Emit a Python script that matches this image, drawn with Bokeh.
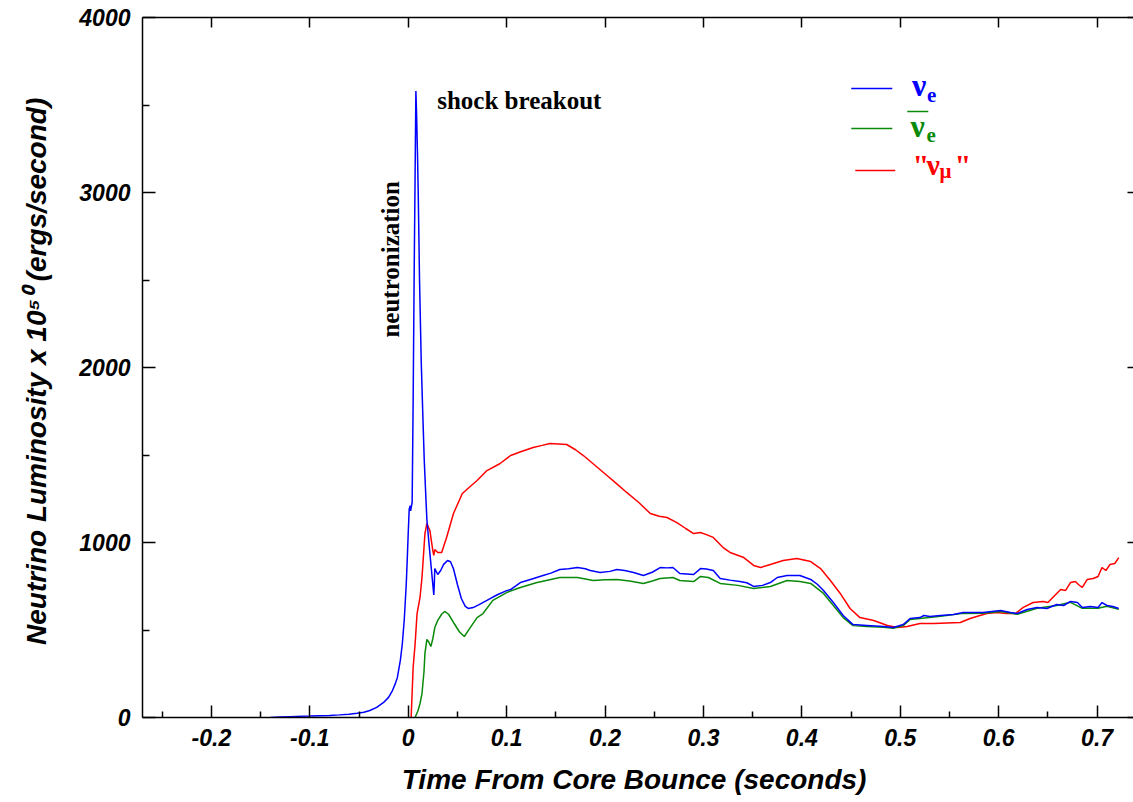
import math
from bokeh.plotting import figure
from bokeh.models import (Range1d, LinearAxis, FixedTicker, Label,
                          BoxAnnotation, CustomLabelingPolicy)
from bokeh.embed import file_html
from bokeh.resources import INLINE

# ---------------- data ----------------
nue_t = [-0.14, -0.13, -0.12, -0.10, -0.08, -0.07, -0.06, -0.052, -0.045, -0.039,
         -0.032, -0.025, -0.020, -0.016, -0.013, -0.011, -0.008, -0.006, -0.004,
         -0.002, -0.001, 0.000, 0.001, 0.002, 0.0025, 0.003, 0.004, 0.005, 0.006,
         0.007, 0.0078, 0.0085, 0.0095, 0.0102, 0.0115, 0.0132, 0.0150, 0.0163,
         0.0180, 0.019, 0.021, 0.023, 0.025, 0.026, 0.0265, 0.027, 0.028, 0.030,
         0.033, 0.036, 0.040, 0.043, 0.046, 0.050, 0.054, 0.058, 0.061, 0.066,
         0.072, 0.080, 0.090, 0.100, 0.104, 0.114, 0.125, 0.137, 0.145, 0.154,
         0.163, 0.172, 0.180, 0.185, 0.195, 0.205, 0.212, 0.220, 0.229, 0.239,
         0.248, 0.256, 0.263, 0.269, 0.276, 0.283, 0.290, 0.297, 0.303, 0.310,
         0.317, 0.327, 0.337, 0.344, 0.351, 0.360, 0.368, 0.375, 0.385, 0.398,
         0.409, 0.416, 0.422, 0.432, 0.442, 0.452, 0.466, 0.483, 0.493, 0.503,
         0.510, 0.520, 0.524, 0.530, 0.541, 0.554, 0.564, 0.584, 0.602, 0.612,
         0.619, 0.629, 0.639, 0.649, 0.659, 0.666, 0.673, 0.680, 0.685, 0.693,
         0.701, 0.705, 0.710, 0.716, 0.722]
nue_L = [0, 3, 5, 8, 12, 15, 19, 24, 30, 40,
         58, 86, 115, 154, 195, 229, 326, 420, 560,
         760, 900, 1050, 1190, 1210, 1180, 1200, 1230, 1800, 2500,
         3100, 3580, 3450, 3200, 2990, 2500, 2040, 1700, 1470,
         1250, 1130, 1000, 880, 760, 700, 760, 851, 840, 817,
         840, 875, 897, 890, 850, 760, 680, 635, 623, 628,
         645, 669, 700, 725, 731, 771, 790, 811, 825, 846,
         850, 857, 850, 840, 829, 835, 846, 840, 829, 811,
         830, 857, 855, 857, 823, 820, 817, 851, 848, 840,
         794, 785, 777, 770, 749, 755, 771, 800, 811, 811,
         789, 760, 726, 657, 583, 531, 526, 520, 514, 531,
         566, 571, 583, 577, 583, 589, 600, 600, 611, 600,
         594, 617, 629, 623, 646, 640, 663, 657, 629, 634,
         629, 657, 640, 634, 623]

anue_t = [0.007, 0.010, 0.012, 0.014, 0.016, 0.017, 0.019, 0.021, 0.023, 0.025,
          0.027, 0.030, 0.034, 0.037, 0.041, 0.046, 0.052, 0.057, 0.062, 0.070,
          0.076, 0.086, 0.100, 0.111, 0.114, 0.130, 0.154, 0.172, 0.188, 0.200,
          0.212, 0.225, 0.239, 0.248, 0.256, 0.269, 0.276, 0.290, 0.297, 0.305,
          0.317, 0.335, 0.351, 0.368, 0.385, 0.398, 0.409, 0.422, 0.432, 0.442,
          0.452, 0.466, 0.483, 0.493, 0.503, 0.510, 0.520, 0.541, 0.564, 0.584,
          0.602, 0.619, 0.639, 0.659, 0.673, 0.685, 0.701, 0.710, 0.722]
anue_L = [0, 40, 80, 137, 260, 366, 446, 430, 406, 450,
          514, 555, 590, 606, 590, 543, 490, 463, 505, 571,
          594, 669, 714, 737, 743, 770, 800, 800, 783, 787,
          789, 780, 766, 780, 794, 800, 783, 777, 806, 800,
          766, 755, 737, 749, 783, 777, 766, 709, 640, 571,
          525, 520, 515, 510, 525, 560, 566, 578, 595, 596,
          606, 590, 624, 640, 658, 624, 624, 636, 618]

numu_t = [0.003, 0.005, 0.007, 0.009, 0.012, 0.014, 0.017, 0.019, 0.022, 0.025,
          0.026, 0.027, 0.030, 0.034, 0.039, 0.046, 0.055, 0.063, 0.070, 0.080,
          0.093, 0.104, 0.115, 0.127, 0.136, 0.144, 0.153, 0.161, 0.170, 0.178,
          0.190, 0.202, 0.212, 0.222, 0.234, 0.246, 0.255, 0.263, 0.273, 0.282,
          0.290, 0.297, 0.303, 0.310, 0.320, 0.327, 0.341, 0.351, 0.358, 0.368,
          0.381, 0.395, 0.409, 0.419, 0.429, 0.439, 0.449, 0.459, 0.473, 0.487,
          0.497, 0.507, 0.520, 0.534, 0.561, 0.571, 0.581, 0.588, 0.598, 0.608,
          0.617, 0.625, 0.635, 0.645, 0.650, 0.655, 0.663, 0.668, 0.673, 0.678,
          0.681, 0.685, 0.690, 0.696, 0.701, 0.705, 0.709, 0.713, 0.718, 0.722]
numu_L = [0, 286, 420, 594, 686, 800, 1051, 1109, 1069, 954,
          926, 960, 943, 943, 1029, 1166, 1280, 1320, 1354, 1411,
          1450, 1497, 1520, 1543, 1555, 1566, 1563, 1560, 1530, 1497,
          1440, 1383, 1335, 1286, 1230, 1166, 1150, 1143, 1114, 1080,
          1051, 1057, 1045, 1029, 971, 943, 914, 869, 857, 874,
          897, 909, 891, 851, 783, 709, 623, 571, 554, 526,
          514, 520, 537, 537, 543, 566, 583, 594, 600, 594,
          594, 629, 657, 663, 657, 686, 731, 726, 771, 777,
          760, 743, 789, 794, 806, 857, 840, 874, 880, 914]

xtick_values = [-0.2, -0.1, 0.0, 0.1, 0.2, 0.3, 0.4, 0.5, 0.6, 0.7]
xtick_labels = ["-0.2", "-0.1", "0", "0.1", "0.2", "0.3", "0.4", "0.5", "0.6", "0.7"]
xminor_values = [-0.25, -0.15, -0.05, 0.05, 0.15, 0.25, 0.35, 0.45, 0.55, 0.65]
ytick_values = [0, 1000, 2000, 3000, 4000]
yminor_values = [500, 1500, 2500, 3500]

x_title = "Time From Core Bounce  (seconds)"
y_title = "Neutrino Luminosity x 10\u2075\u2070  (ergs/second)"

# ---------------- styling ----------------
BLUE = "#0000ff"
GREEN = "#0a8a0a"
RED = "#ff0000"
SANS = "Liberation Sans"
SERIF = "Liberation Serif"

p = figure(width=1133, height=802, output_backend="svg", toolbar_location=None,
           x_range=Range1d(-0.27, 0.737), y_range=Range1d(0, 4000),
           x_axis_location=None, y_axis_location=None,
           min_border_left=142, min_border_right=0, min_border_top=17,
           min_border_bottom=85)
p.outline_line_color = None
p.xgrid.visible = False
p.ygrid.visible = False
p.background_fill_color = "white"
p.border_fill_color = "white"

xt = FixedTicker(ticks=xtick_values, minor_ticks=xminor_values)
yt = FixedTicker(ticks=ytick_values, minor_ticks=yminor_values)

bottom = LinearAxis(ticker=xt, axis_label=x_title)
bottom.major_label_overrides = {v: s for v, s in zip(xtick_values, xtick_labels)}
left = LinearAxis(ticker=yt, axis_label=y_title)
top = LinearAxis(ticker=FixedTicker(ticks=xtick_values))
right = LinearAxis(ticker=FixedTicker(ticks=ytick_values))

for ax in (bottom, left, top, right):
    ax.axis_line_color = "black"
    ax.axis_line_width = 1.5
    ax.major_tick_line_color = "black"
    ax.major_tick_line_width = 1.5
    ax.minor_tick_line_color = "black"
    ax.minor_tick_line_width = 1.5
    ax.major_tick_out = 0
    ax.minor_tick_out = 0
    ax.major_label_text_font = SANS
    ax.major_label_text_font_style = "bold italic"
    ax.major_label_text_font_size = "23px"
    ax.major_label_text_color = "black"
    ax.axis_label_text_font = SANS
    ax.axis_label_text_font_style = "bold italic"
    ax.axis_label_text_color = "black"
    ax.axis_label_text_font_size = "28px"

bottom.major_tick_in = 12
bottom.minor_tick_in = 6
bottom.major_label_standoff = 11
bottom.axis_label_standoff = 15

left.major_tick_in = 13
left.minor_tick_in = 7
left.major_label_standoff = 12
left.axis_label_standoff = 24

hide_labels = CustomLabelingPolicy(code="return []")
for ax in (top, right):
    ax.minor_tick_in = 0
    ax.major_label_standoff = 0
    ax.major_label_text_font_size = "0px"
    ax.major_label_policy = hide_labels
top.major_tick_in = 10
right.major_tick_in = 6
right.axis_line_color = None

p.add_layout(bottom, "below")
p.add_layout(left, "left")
p.add_layout(top, "above")
p.add_layout(right, "right")

p.line(numu_t, numu_L, line_color=RED, line_width=1.5)
p.line(anue_t, anue_L, line_color=GREEN, line_width=1.5)
p.line(nue_t, nue_L, line_color=BLUE, line_width=1.5)

SHIFT = 8  # px lift for horizontal texts


def lab(x, y, text, color, size, xo=0, yo=0, font=SERIF, style="bold", angle=0):
    p.add_layout(Label(x=x, y=y, text=text, text_color=color, text_font=font,
                       text_font_style=style, text_font_size=size,
                       text_baseline="alphabetic", text_align="left",
                       x_offset=xo, y_offset=yo, angle=angle))


def bar(l, r, b, t, color):
    p.add_layout(BoxAnnotation(left=l, right=r, bottom=b, top=t,
                               fill_color=color, fill_alpha=1, line_color=None))


# legend sample lines
bar(0.4502, 0.4919, 3590, 3598, BLUE)
bar(0.4502, 0.4919, 3362, 3370, GREEN)
bar(0.4543, 0.4949, 3122, 3130, RED)

# legend texts
lab(0.512, 3571, "\u03bd", BLUE, "32px", yo=SHIFT)
lab(0.512, 3571, "e", BLUE, "21px", xo=15, yo=SHIFT - 10)
bar(0.5071, 0.5285, 3458, 3467, GREEN)
lab(0.5105, 3337, "\u03bd", GREEN, "32px", yo=SHIFT)
lab(0.5105, 3337, "e", GREEN, "21px", xo=16, yo=SHIFT - 9)
lab(0.5125, 3114, "\"", RED, "30px", yo=SHIFT)
lab(0.5125, 3114, "\u03bd", RED, "30px", xo=14, yo=SHIFT)
lab(0.5125, 3114, "\u03bc", RED, "21px", xo=27, yo=SHIFT - 6)
lab(0.5125, 3114, "\"", RED, "30px", xo=42, yo=SHIFT)

# annotations
lab(0.0295, 3480, "shock breakout", "black", "25px", yo=SHIFT)
lab(-0.0183, 2171, "neutronization", "black", "25px", angle=math.pi / 2)

open("out.html", "w").write(file_html(p, INLINE))
